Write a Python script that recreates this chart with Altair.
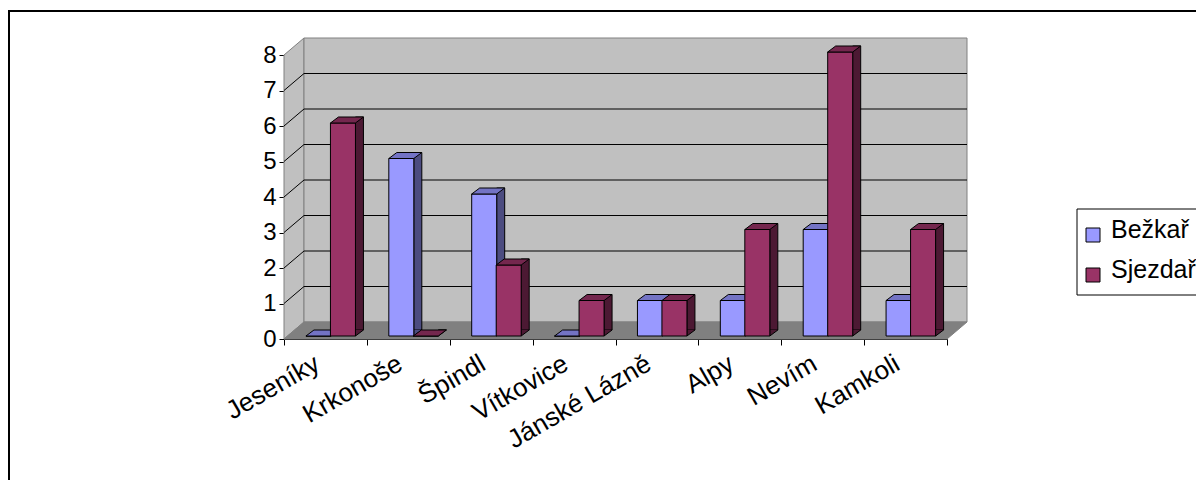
import altair as alt
import pandas as pd

# ---- data ----
categories = ["Jeseníky", "Krkonoše", "Špindl", "Vítkovice", "Jánské Lázně", "Alpy", "Nevím", "Kamkoli"]
series_names = ["Bežkař", "Sjezdař"]
bezkar = [0, 5, 4, 0, 1, 1, 3, 1]
sjezdar = [6, 0, 2, 1, 1, 3, 8, 3]
y_ticks = [0, 1, 2, 3, 4, 5, 6, 7, 8]
grid_values = [1, 2, 3, 4, 5, 6, 7]

# ---- styles ----
front_colors = ["#9999FF", "#993366"]
top_colors = ["#7373C4", "#74274E"]
side_colors = ["#4C4C80", "#4C1933"]
WALL = "#C0C0C0"
FLOOR = "#808080"
EDGE = "#808080"
FONT = "Liberation Sans"

W, H = 663, 284          # front face of plot area
DX, DY = 20, 17          # wall depth (pixels)
BW = 25                  # bar width
BXS = [-7, 17.5]         # bar centre offset from band centre
BY = -3                  # bar vertical offset
DEPX, DEPY = 8, 6        # bar depth
PAD_L, PAD_T = 276, 47
TOTAL_W, TOTAL_H = 1188, 472

# legend layout (plot coordinates)
LEG_X, LEG_Y, LEG_H = 793, 154, 86
LEG_ROWS = [180, 220]
SQ = 14

rows = []
for c, b, s in zip(categories, bezkar, sjezdar):
    rows.append({"cat": c, "series": series_names[0], "value": b})
    rows.append({"cat": c, "series": series_names[1], "value": s})
df = pd.DataFrame(rows)
grid_df = pd.DataFrame({"v": grid_values})
one = pd.DataFrame({"k": [0]})

y_axis = alt.Axis(title=None, values=y_ticks, grid=False, labelFont=FONT, labelFontSize=24,
                  labelColor="black", domainColor="black", tickColor="black", tickSize=5,
                  labelPadding=3, labelOverlap=False, labelBound=False, labelFlush=False)
y_scale = alt.Scale(domain=[0, 8], nice=False)


def yenc(field, axis=True):
    return alt.Y(f"{field}:Q", scale=y_scale, axis=y_axis if axis else None)


x_enc = alt.X("cat:N", sort=categories, scale=alt.Scale(paddingInner=0, paddingOuter=0),
              axis=alt.Axis(title=None, labelAngle=-30, labelAlign="right", labelBaseline="top",
                            labelFont=FONT, labelFontSize=26, labelColor="black",
                            domainColor="black", tickColor="black", tickSize=6,
                            tickBand="extent", labelPadding=5, labelOffset=-15,
                            labelOverlap=False, grid=False))

layers = []

# outer frame (top and left edges)
layers.append(alt.Chart(one).mark_rule(color="black", strokeWidth=2).encode(
    x=alt.value(-PAD_L), x2=alt.value(TOTAL_W - PAD_L), y=alt.value(-PAD_T + 3)))
layers.append(alt.Chart(one).mark_rule(color="black", strokeWidth=2).encode(
    x=alt.value(-PAD_L + 1), y=alt.value(-PAD_T + 3), y2=alt.value(TOTAL_H - PAD_T)))

# left wall
left_path = f"M0,0 L0,{-H} L{DX},{-H - DY} L{DX},{-DY} Z"
layers.append(alt.Chart(one).mark_point(shape=left_path, size=4, filled=True, opacity=1,
                                        fill=WALL, stroke=EDGE, strokeWidth=1).encode(
    x=alt.value(0), y=alt.value(H)))
# back wall
layers.append(alt.Chart(one).mark_rect(fill=WALL, stroke=EDGE, strokeWidth=1).encode(
    x=alt.value(DX), x2=alt.value(W + DX), y=alt.value(-DY), y2=alt.value(H - DY)))
# floor
floor_path = f"M0,0 L{W},0 L{W + DX},{-DY} L{DX},{-DY} Z"
layers.append(alt.Chart(one).mark_point(shape=floor_path, size=4, filled=True, opacity=1,
                                        fill=FLOOR, stroke=FLOOR, strokeWidth=1).encode(
    x=alt.value(0), y=alt.value(H)))
# back-wall gridlines
layers.append(alt.Chart(grid_df).mark_rule(color="black", strokeWidth=1, yOffset=-DY).encode(
    y=yenc("v"), x=alt.value(DX), x2=alt.value(W + DX)))
# side-wall gridlines (diagonal)
layers.append(alt.Chart(grid_df).mark_rule(color="black", strokeWidth=1, y2Offset=-DY).encode(
    y=yenc("v"), y2="v:Q", x=alt.value(0), x2=alt.value(DX)))

for i, name in enumerate(series_names):
    bx = BXS[i]
    left = bx - BW / 2
    base = alt.Chart(df).transform_filter(alt.datum.series == name)
    # side face (shifted rectangle)
    layers.append(base.mark_bar(width=DEPX, xOffset=bx + BW / 2 + DEPX / 2,
                                yOffset=BY - DEPY, y2Offset=BY - DEPY,
                                fill=side_colors[i], stroke="black", strokeWidth=1).encode(
        x=x_enc, y=yenc("value")))
    # lower triangle of side face
    tri = (f"M{left + BW},{BY - DEPY} L{left + BW},{BY} L{left + BW + DEPX},{BY - DEPY}")
    layers.append(base.mark_point(shape=tri, size=4, filled=True, opacity=1,
                                  fill=side_colors[i], stroke="black", strokeWidth=1).encode(
        x=x_enc, y=alt.datum(0)))
    # front face
    layers.append(base.mark_bar(width=BW, xOffset=bx, yOffset=BY, y2Offset=BY,
                                fill=front_colors[i], stroke="black", strokeWidth=1,
                                opacity=1).encode(
        x=x_enc, y=yenc("value")))
    # top face
    top = (f"M{left},{BY} L{left + BW},{BY} L{left + BW + DEPX},{BY - DEPY} "
           f"L{left + DEPX},{BY - DEPY} Z")
    layers.append(base.mark_point(shape=top, size=4, filled=True, opacity=1,
                                  fill=top_colors[i], stroke="black", strokeWidth=1).encode(
        x=x_enc, y=yenc("value")))

# legend (box, swatches, labels)
layers.append(alt.Chart(one).mark_rect(fill="white", stroke="black", strokeWidth=1).encode(
    x=alt.value(LEG_X), x2=alt.value(LEG_X + 200), y=alt.value(LEG_Y),
    y2=alt.value(LEG_Y + LEG_H)))
for i, name in enumerate(series_names):
    cy = LEG_ROWS[i]
    layers.append(alt.Chart(one).mark_rect(fill=front_colors[i], stroke="black",
                                           strokeWidth=1).encode(
        x=alt.value(LEG_X + 9), x2=alt.value(LEG_X + 9 + SQ),
        y=alt.value(cy - SQ / 2), y2=alt.value(cy + SQ / 2)))
    layers.append(alt.Chart(one).mark_text(text=name, font=FONT, fontSize=25, color="black",
                                           align="left", baseline="alphabetic").encode(
        x=alt.value(LEG_X + 34), y=alt.value(cy + 3)))

chart = alt.layer(*layers).properties(
    width=W, height=H, autosize="none",
    padding={"left": PAD_L, "top": PAD_T, "right": TOTAL_W - PAD_L - W,
             "bottom": TOTAL_H - PAD_T - H},
    background="white",
).configure_view(stroke=None).configure_axisY(
    labelOverlap=False, values=y_ticks, tickCount=9
)

chart.save("out.html", embed_options={"renderer": "svg", "actions": False})
